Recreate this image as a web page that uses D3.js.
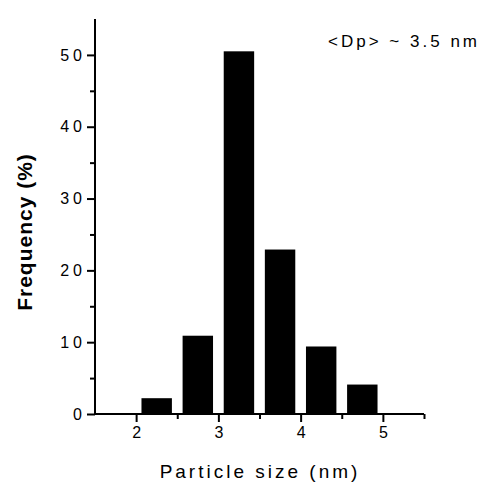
<!DOCTYPE html>
<html><head><meta charset="utf-8">
<script src="https://cdn.jsdelivr.net/npm/d3@7"></script>
<style>body{margin:0;background:#fff}svg{display:block}</style>
</head><body>
<svg id="c" width="482" height="485"></svg>
<script>
const binCenters = [2.25, 2.75, 3.25, 3.75, 4.25, 4.75];
const frequencies = [2.2, 10.9, 50.5, 22.9, 9.4, 4.1];
const xTicks = [2, 3, 4, 5];
const xMinorTicks = [2.5, 3.5, 4.5, 5.5];
const yTicks = [0, 10, 20, 30, 40, 50];
const yMinorTicks = [5, 15, 25, 35, 45];
const xTitle = "Particle size (nm)";
const yTitle = "Frequency (%)";
const annotation = "<Dp> ~ 3.5 nm";

const svg = d3.select("#c");
const font = "'Liberation Sans', Arial, sans-serif";
const x = d3.scaleLinear().domain([1.5, 5.5]).range([95, 424]);
const y = d3.scaleLinear().domain([0, 55]).range([414, 19]);
const barW = 0.37;

svg.append("g").selectAll("rect").data(binCenters).join("rect")
  .attr("x", (d) => x(d - barW / 2))
  .attr("width", (d) => x(d + barW / 2) - x(d - barW / 2))
  .attr("y", (d, i) => y(frequencies[i]))
  .attr("height", (d, i) => y(0) - y(frequencies[i]))
  .attr("fill", "#000");

// y axis
const ya = svg.append("g").attr("transform", `translate(${x(1.5)},0)`)
  .call(d3.axisLeft(y).tickValues(yTicks).tickSize(8).tickPadding(1).tickFormat(d3.format("d")));
ya.append("g").call(d3.axisLeft(y).tickValues(yMinorTicks).tickSize(5).tickFormat(""));
ya.selectAll("path.domain").remove();
ya.append("line").attr("x1", 0).attr("x2", 0).attr("y1", y(55)).attr("y2", y(0) + 1).attr("stroke", "#000").attr("stroke-width", 2);
ya.selectAll(".tick line").attr("stroke", "#000").attr("stroke-width", 2);
ya.selectAll(".tick text").attr("font-family", font).attr("font-size", 16).attr("letter-spacing", 4).attr("fill", "#000");

// x axis
const xa = svg.append("g").attr("transform", `translate(0,${y(0)})`)
  .call(d3.axisBottom(x).tickValues(xTicks).tickSize(8).tickPadding(5).tickFormat(d3.format("d")));
xa.append("g").call(d3.axisBottom(x).tickValues(xMinorTicks).tickSize(5).tickFormat(""));
xa.selectAll("path.domain").remove();
xa.append("line").attr("x1", x(1.5) - 1).attr("x2", x(5.5)).attr("y1", 0).attr("y2", 0).attr("stroke", "#000").attr("stroke-width", 2);
xa.selectAll(".tick line").attr("stroke", "#000").attr("stroke-width", 2);
xa.selectAll(".tick text").attr("font-family", font).attr("font-size", 16).attr("fill", "#000");

// titles
svg.append("text").attr("x", 260).attr("y", 478).attr("text-anchor", "middle")
  .attr("font-family", font).attr("font-size", 19).attr("letter-spacing", 3).attr("fill", "#000").text(xTitle);
svg.append("text").attr("transform", "translate(32,232) rotate(-90)").attr("text-anchor", "middle")
  .attr("font-family", font).attr("font-size", 21).attr("font-weight", "bold").attr("letter-spacing", 1).attr("fill", "#000").text(yTitle);
svg.append("text").attr("x", 480).attr("y", 47).attr("text-anchor", "end")
  .attr("font-family", font).attr("font-size", 17).attr("letter-spacing", 3).attr("fill", "#000").text(annotation);
</script>
</body></html>
